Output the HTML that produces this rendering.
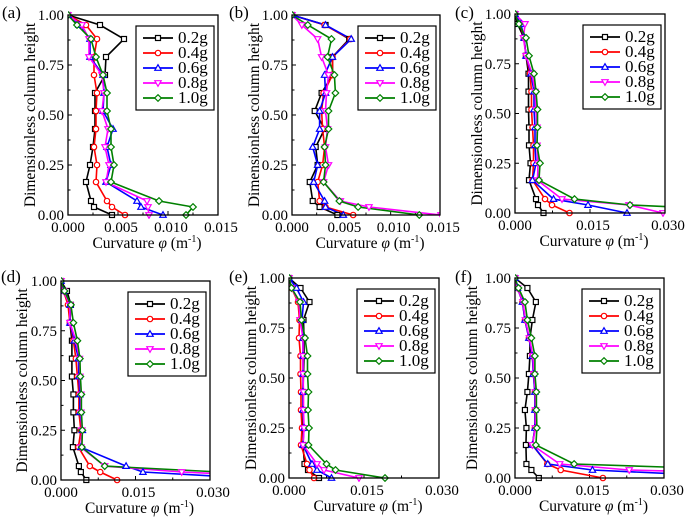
<!DOCTYPE html>
<html><head><meta charset="utf-8"><style>
html,body{margin:0;padding:0;background:#fff;}
svg{display:block;}
svg text{font-family:"Liberation Serif","Times New Roman",serif;}
</style></head><body>
<svg id="fig" width="685" height="517" viewBox="0 0 685 517" xmlns="http://www.w3.org/2000/svg" font-family="Liberation Serif, serif"></svg>
<script>
const heights=[0,0.04,0.07,0.165,0.25,0.34,0.43,0.52,0.61,0.70,0.79,0.88,0.95,1.0];
const seriesNames=["0.2g","0.4g","0.6g","0.8g","1.0g"];
const yTicks=[0,0.25,0.5,0.75,1.0];
const yTickLabels=["0.00","0.25","0.50","0.75","1.00"];
const xTicksA=[0,0.005,0.010,0.015];
const xTickLabelsA=["0.000","0.005","0.010","0.015"];
const xTicksC=[0,0.015,0.030];
const xTickLabelsC=["0.000","0.015","0.030"];
const dataA=[
[0.0044,0.0026,0.0023,0.0018,0.0022,0.0025,0.0027,0.0027,0.0027,0.0037,0.0038,0.0056,0.0032,0],
[0.0057,0.0044,0.0039,0.0028,0.0029,0.0026,0.0028,0.0028,0.0029,0.0026,0.0026,0.0029,0.0018,0],
[0.0095,0.0073,0.0069,0.0038,0.0043,0.0039,0.0045,0.0035,0.0036,0.0035,0.0022,0.0022,0.0011,0],
[0.0081,0.0080,0.0079,0.0038,0.0041,0.0037,0.0040,0.0034,0.0036,0.0034,0.0021,0.0021,0.0014,0],
[0.0118,0.0125,0.0091,0.0043,0.0046,0.0043,0.0043,0.0039,0.0039,0.0035,0.0028,0.0023,0.0009,0]];
const dataB=[
[0.0046,0.0028,0.0021,0.0018,0.0026,0.0024,0.0033,0.0023,0.0030,0.0041,0.0041,0.0058,0.0034,0],
[0.0062,0.0034,0.0028,0.0026,0.0031,0.0033,0.0031,0.0030,0.0032,0.0041,0.0041,0.0059,0.0033,0],
[0.0052,0.0034,0.0033,0.0022,0.0026,0.0021,0.0028,0.0028,0.0034,0.0033,0.0041,0.0060,0.0034,0],
[0.0151,0.0078,0.0049,0.0032,0.0037,0.0034,0.0036,0.0034,0.0035,0.0037,0.0030,0.0026,0.0010,0],
[0.0129,0.0067,0.0048,0.0032,0.0034,0.0033,0.0037,0.0037,0.0044,0.0043,0.0036,0.0040,0.0016,0]];
const dataC=[
[0.0057,0.0046,0.0042,0.0028,0.0031,0.0028,0.0028,0.0027,0.0027,0.0027,0.0022,0.0018,0.0005,0],
[0.0109,0.0074,0.0060,0.0035,0.0037,0.0037,0.0035,0.0033,0.0033,0.0030,0.0022,0.0018,0.0010,0],
[0.0224,0.0146,0.0077,0.0035,0.0042,0.0040,0.0040,0.0038,0.0038,0.0032,0.0022,0.0018,0.0012,0],
[0.0296,0.0228,0.0094,0.0045,0.0046,0.0044,0.0044,0.0042,0.0040,0.0034,0.0022,0.0017,0.0020,0],
[0.06,0.0230,0.0119,0.0048,0.0050,0.0044,0.0045,0.0045,0.0042,0.0038,0.0028,0.0022,0.0008,0]];
const dataD=[
[0.0051,0.0040,0.0036,0.0024,0.0027,0.0025,0.0025,0.0022,0.0022,0.0022,0.0018,0.0020,0.0012,0],
[0.0113,0.0079,0.0058,0.0035,0.0040,0.0036,0.0036,0.0033,0.0030,0.0025,0.0018,0.0014,0.0005,0],
[0.045,0.0165,0.0131,0.0040,0.0043,0.0038,0.0038,0.0036,0.0035,0.0027,0.0018,0.0018,0.0005,0],
[0.06,0.0243,0.0088,0.0040,0.0042,0.0040,0.0040,0.0038,0.0037,0.0030,0.0018,0.0018,0.0005,0],
[0.07,0.032,0.0088,0.0042,0.0043,0.0041,0.0041,0.0039,0.0038,0.0033,0.0025,0.0020,0.0007,0]];
const dataE=[
[0.0060,0.0038,0.0031,0.0028,0.0028,0.0028,0.0028,0.0029,0.0030,0.0030,0.0029,0.0041,0.0023,0],
[0.0050,0.0041,0.0036,0.0024,0.0026,0.0024,0.0024,0.0023,0.0023,0.0020,0.0021,0.0018,0.0005,0],
[0.0085,0.0056,0.0046,0.0028,0.0030,0.0028,0.0028,0.0028,0.0028,0.0028,0.0026,0.0029,0.0015,0],
[0.0140,0.0070,0.0056,0.0028,0.0030,0.0029,0.0029,0.0028,0.0028,0.0028,0.0022,0.0020,0.0005,0],
[0.0192,0.0093,0.0075,0.0039,0.0040,0.0038,0.0039,0.0037,0.0037,0.0032,0.0025,0.0022,0.0005,0]];
const dataF=[
[0.0048,0.0033,0.0023,0.0022,0.0023,0.0020,0.0025,0.0028,0.0030,0.0030,0.0035,0.0042,0.0025,0],
[0.0177,0.0092,0.0065,0.0035,0.0040,0.0040,0.0040,0.0037,0.0035,0.0028,0.0020,0.0015,0.0005,0],
[0.05,0.0156,0.0066,0.0035,0.0040,0.0040,0.0040,0.0037,0.0035,0.0028,0.0020,0.0015,0.0005,0],
[0.08,0.0230,0.0090,0.0035,0.0041,0.0041,0.0041,0.0038,0.0036,0.0029,0.0021,0.0016,0.0005,0],
[0.09,0.048,0.0119,0.0042,0.0044,0.0043,0.0043,0.0040,0.0040,0.0033,0.0025,0.0020,0.0007,0]];

const colors=["#000000","#ff0000","#0000ff","#ff00ff","#008000"];
const NS="http://www.w3.org/2000/svg";
const FF='"Liberation Serif","Times New Roman",serif';
const svg=document.getElementById('fig');
function mk(tag,attrs,parent){const e=document.createElementNS(NS,tag);for(const k in attrs)e.setAttribute(k,attrs[k]);if(tag==='text')e.style.fontFamily=FF;(parent||svg).appendChild(e);return e;}
function marker(g,k,x,y,c){
  let m;
  if(k===0) m=mk('rect',{x:x-2.5,y:y-2.5,width:5,height:5,fill:'#fff',stroke:c,'stroke-width':1.2},g);
  else if(k===1) m=mk('circle',{cx:x,cy:y,r:2.7,fill:'#fff',stroke:c,'stroke-width':1.2},g);
  else if(k===2) m=mk('polygon',{points:`${x},${y-3.3} ${x-3.2},${y+2.3} ${x+3.2},${y+2.3}`,fill:'#fff',stroke:c,'stroke-width':1.2},g);
  else if(k===3) m=mk('polygon',{points:`${x},${y+3.3} ${x-3.2},${y-2.3} ${x+3.2},${y-2.3}`,fill:'#fff',stroke:c,'stroke-width':1.2},g);
  else m=mk('polygon',{points:`${x},${y-3.3} ${x+3.3},${y} ${x},${y+3.3} ${x-3.3},${y}`,fill:'#fff',stroke:c,'stroke-width':1.2},g);
  
  
  return m;
}
const panels=[
 {id:'a',L:68,R:218,T:15,B:215,xmax:0.015,xt:xTicksA,xl:xTickLabelsA,data:dataA,tx:31,lx:2,ly:2},
 {id:'b',L:292,R:440,T:15,B:215,xmax:0.015,xt:xTicksA,xl:xTickLabelsA,data:dataB,tx:255,lx:229,ly:2},
 {id:'c',L:515,R:665,T:14,B:213,xmax:0.030,xt:xTicksC,xl:xTickLabelsC,data:dataC,tx:478,lx:455,ly:2},
 {id:'d',L:61,R:210,T:281,B:480,xmax:0.030,xt:xTicksC,xl:xTickLabelsC,data:dataD,tx:23,lx:1,ly:266},
 {id:'e',L:289,R:439,T:278,B:478,xmax:0.030,xt:xTicksC,xl:xTickLabelsC,data:dataE,tx:252,lx:229,ly:266},
 {id:'f',L:515,R:664,T:278,B:478,xmax:0.030,xt:xTicksC,xl:xTickLabelsC,data:dataF,tx:473,lx:455,ly:266}];
panels.forEach(p=>{
  const g=mk('g',{});
  
  
  const xs=v=>p.L+(v/p.xmax)*(p.R-p.L);
  const ys=v=>p.B-v*(p.B-p.T);
  const lab=mk('text',{x:p.lx,y:p.ly+16,'font-size':17},g);lab.textContent='('+p.id+')';
  
  const cp=mk('clipPath',{id:'clip'+p.id},g);mk('rect',{x:p.L,y:p.T-4,width:p.R-p.L,height:p.B-p.T+8},cp);
  yTicks.forEach((v,i)=>{
    const y=ys(v);
    const t=mk('line',{x1:p.L,x2:p.L+4,y1:y,y2:y,stroke:'#000','stroke-width':1},g);
    
    const tl=mk('text',{x:p.L-4,y:y+5,'font-size':15,'text-anchor':'end'},g);tl.textContent=yTickLabels[i];
    
    if(i<yTicks.length-1){const ym=ys(v+0.125);mk('line',{x1:p.L,x2:p.L+2.5,y1:ym,y2:ym,stroke:'#000'},g);}
  });
  p.xt.forEach((v,i)=>{
    const x=xs(v);
    const t=mk('line',{x1:x,x2:x,y1:p.B,y2:p.B-4,stroke:'#000','stroke-width':1},g);
    
    const tl=mk('text',{x:x+(i===0?0:3),y:p.B+17,'font-size':15,'text-anchor':'middle'},g);tl.textContent=p.xl[i];
    
    if(i<p.xt.length-1){const xm=xs(v+(p.xt[1]-p.xt[0])/2);mk('line',{x1:xm,x2:xm,y1:p.B,y2:p.B-2.5,stroke:'#000'},g);}
  });
  const yt=mk('text',{x:p.tx,y:(p.T+p.B)/2+4,'font-size':15.5,'text-anchor':'middle',transform:`rotate(-90 ${p.tx} ${(p.T+p.B)/2})`},g);
  yt.textContent='Dimensionless column height';
  
  const xt=mk('text',{x:(p.L+p.R)/2+4,y:p.B+33,'font-size':15.5,'text-anchor':'middle'},g);
  xt.innerHTML='Curvature <tspan font-style="italic">φ</tspan> (m<tspan dy="-6" font-size="10">-1</tspan><tspan dy="6">)</tspan>';
  
  const sg=mk('g',{'clip-path':`url(#clip${p.id})`},g);
  p.data.forEach((arr,k)=>{
    const pts=arr.map((v,i)=>xs(v).toFixed(1)+','+ys(heights[i]).toFixed(1)).join(' ');
    const pl=mk('polyline',{points:pts,fill:'none',stroke:colors[k],'stroke-width':1.6},sg);
    
    
  });
  p.data.forEach((arr,k)=>{arr.forEach((v,i)=>marker(sg,k,xs(v),ys(heights[i]),colors[k]));});
  const fr=mk('rect',{x:p.L,y:p.T,width:p.R-p.L,height:p.B-p.T,fill:'none',stroke:'#000','stroke-width':1.3},g);
  
  const lw=78,lh=84,lxb=p.R-4-lw,lyb=p.T+11;
  const lg=mk('g',{},g);
  
  mk('rect',{x:lxb,y:lyb,width:lw,height:lh,fill:'#fff',stroke:'#000','stroke-width':1.2},lg);
  seriesNames.forEach((n,k)=>{
    const y=lyb+12+k*15;
    const e=mk('g',{},lg);
    
    mk('line',{x1:lxb+7,x2:lxb+37,y1:y,y2:y,stroke:colors[k],'stroke-width':1.8},e);
    marker(e,k,lxb+22,y,colors[k]);
    const t=mk('text',{x:lxb+42,y:y+5,'font-size':17},e);t.textContent=n;
  });
});
</script>
</body></html>
